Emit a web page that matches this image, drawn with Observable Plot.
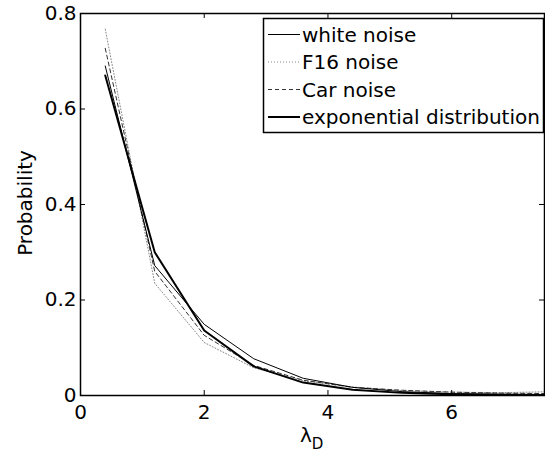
<!DOCTYPE html>
<html><head><meta charset="utf-8">
<script src="https://cdn.jsdelivr.net/npm/d3@7"></script>
<script src="https://cdn.jsdelivr.net/npm/@observablehq/plot@0.6"></script>
<style>body{margin:0;background:#fff}</style>
</head><body><div id="chart"></div>
<script>
const lambdaD = [0.4, 1.2, 2.0, 2.8, 3.6, 4.4, 5.2, 6.0, 6.8, 7.6];
const whiteNoise = [0.69, 0.272, 0.149, 0.077, 0.036, 0.017, 0.008, 0.004, 0.003, 0.002];
const f16Noise = [0.767, 0.235, 0.111, 0.058, 0.031, 0.018, 0.010, 0.007, 0.006, 0.008];
const carNoise = [0.727, 0.26, 0.126, 0.063, 0.032, 0.017, 0.011, 0.007, 0.005, 0.004];
const expDist = [0.67, 0.30, 0.136, 0.061, 0.027, 0.012, 0.0055, 0.0025, 0.0011, 0.0005];
const seriesNames = ["white noise", "F16 noise", "Car noise", "exponential distribution"];
const xTicks = [0, 2, 4, 6];
const yTicks = [0, 0.2, 0.4, 0.6, 0.8];
const yTickLabels = ["0", "0.2", "0.4", "0.6", "0.8"];

const styles = {
  "white noise": {stroke: "#000", strokeWidth: 1, dash: null},
  "F16 noise": {stroke: "#888", strokeWidth: 1, dash: "1,2"},
  "Car noise": {stroke: "#333", strokeWidth: 1, dash: "4,3"},
  "exponential distribution": {stroke: "#000", strokeWidth: 2, dash: null}
};
const values = {"white noise": whiteNoise, "F16 noise": f16Noise, "Car noise": carNoise, "exponential distribution": expDist};
const tidy = s => lambdaD.map((x, i) => ({x, y: values[s][i]}));

const W = 545, H = 455, mL = 80, mR = 1, mT = 13, mB = 60;
const ph = H - mT - mB;
const font = "'DejaVu Sans', Verdana, sans-serif";

const drawOrder = ["F16 noise", "Car noise", "white noise", "exponential distribution"];

const plot = Plot.plot({
  width: W, height: H,
  marginLeft: mL, marginRight: mR, marginTop: mT, marginBottom: mB,
  style: {fontFamily: font, fontSize: "20px", background: "#fff", color: "#000"},
  x: {domain: [0, 7.5]},
  y: {domain: [0, 0.8]},
  marks: [
    ...drawOrder.map(s => Plot.line(tidy(s), {x: "x", y: "y", stroke: styles[s].stroke, strokeWidth: styles[s].strokeWidth, strokeDasharray: styles[s].dash, clip: true})),
    Plot.tickX(xTicks, {x: d => d, stroke: "#000", insetTop: ph - 5}),
    Plot.tickX(xTicks, {x: d => d, stroke: "#000", insetBottom: ph - 5}),
    Plot.tickY(yTicks, {y: d => d, stroke: "#000", insetRight: (W - mL - mR) - 5}),
    Plot.tickY(yTicks, {y: d => d, stroke: "#000", insetLeft: (W - mL - mR) - 5}),
    Plot.axisX({ticks: xTicks, tickSize: 0, tickPadding: 9, label: null, fontSize: 20}),
    Plot.axisY({ticks: yTicks, tickSize: 0, tickPadding: 4, tickFormat: (d, i) => yTickLabels[i], label: null, fontSize: 20}),
    Plot.frame({stroke: "#000", strokeWidth: 1.5})
  ]
});
document.getElementById("chart").appendChild(plot);

const svg = d3.select(plot);
// y label
svg.append("text").attr("transform", `translate(32,${mT + 190}) rotate(-90)`)
  .attr("text-anchor", "middle").attr("font-family", font).attr("font-size", 20).text("Probability");
// x label with subscript
const xl = svg.append("text").attr("x", 300).attr("y", 442).attr("text-anchor", "start")
  .attr("font-family", font).attr("font-size", 20);
xl.append("tspan").text("λ");
xl.append("tspan").attr("font-size", 15).attr("dy", 7).text("D");

// legend
const lg = svg.append("g");
lg.append("rect").attr("x", 263.5).attr("y", 18.5).attr("width", 280).attr("height", 114)
  .attr("fill", "#fff").attr("stroke", "#000").attr("stroke-width", 1.5);
seriesNames.forEach((s, i) => {
  const y = 34.5 + i * 27.5;
  lg.append("line").attr("x1", 268).attr("x2", 300).attr("y1", y).attr("y2", y)
    .attr("stroke", styles[s].stroke).attr("stroke-width", styles[s].strokeWidth)
    .attr("stroke-dasharray", styles[s].dash);
  lg.append("text").attr("x", 302).attr("y", y + 7).attr("text-anchor", "start")
    .attr("font-family", font).attr("font-size", 20).text(s);
});
</script>
</body></html>
